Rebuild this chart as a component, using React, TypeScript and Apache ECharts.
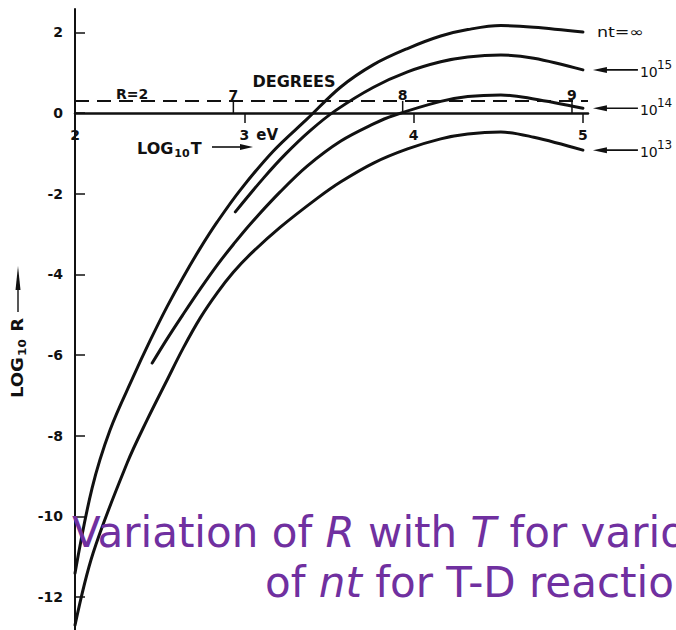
import { useEffect, useRef } from "react";
import * as echarts from "echarts";

// Axis ticks: log10 T in eV (x) and log10 R (y)
const xTicks = [2, 3, 4, 5];
const yTicks = [-12, -10, -8, -6, -4, -2, 0, 2];
// Temperature in degrees (log10 T, kelvin) marked along the R = 2 line
const degreeTicks = [7, 8, 9];
const LOG10_KELVIN_PER_EV = Math.log10(11604.5);
const rBreakEven = 2;

// log10 R against log10 T (eV) for each value of nt
const ntInfinity: number[][] = [
  [2.0, -11.41], [2.101, -9.3], [2.207, -7.86], [2.343, -6.55], [2.444, -5.64],
  [2.544, -4.8], [2.639, -4.07], [2.74, -3.35], [2.84, -2.7], [2.976, -1.91],
  [3.172, -0.94], [3.373, -0.14], [3.568, 0.64], [3.763, 1.2], [3.964, 1.6],
  [4.16, 1.91], [4.32, 2.07], [4.515, 2.17], [4.71, 2.13], [5.0, 2.01],
];
const nt1e15: number[][] = [
  [2.947, -2.45], [3.112, -1.62], [3.243, -1.02], [3.391, -0.43], [3.538, 0.06],
  [3.763, 0.64], [3.964, 1.02], [4.16, 1.27], [4.32, 1.39], [4.515, 1.44],
  [4.71, 1.36], [5.0, 1.07],
];
const nt1e14: number[][] = [
  [2.456, -6.2], [2.544, -5.6], [2.639, -4.99], [2.74, -4.36], [2.84, -3.77],
  [2.935, -3.26], [3.036, -2.75], [3.213, -1.95], [3.373, -1.31], [3.568, -0.7],
  [3.763, -0.27], [3.882, -0.06], [4.16, 0.29], [4.32, 0.41], [4.515, 0.45],
  [4.71, 0.35], [5.0, 0.12],
];
const nt1e13: number[][] = [
  [2.0, -12.7], [2.107, -10.91], [2.308, -8.68], [2.426, -7.61], [2.544, -6.62],
  [2.639, -5.83], [2.74, -5.08], [2.84, -4.46], [2.935, -3.95], [3.036, -3.5],
  [3.213, -2.83], [3.432, -2.11], [3.568, -1.71], [3.763, -1.24], [3.964, -0.89],
  [4.16, -0.64], [4.32, -0.52], [4.515, -0.47], [4.71, -0.6], [5.0, -0.92],
];

const curves = [ntInfinity, nt1e15, nt1e14, nt1e13];
const curveNames = ["nt=∞", "nt=10^15", "nt=10^14", "nt=10^13"];
const curveExponents = ["", "15", "14", "13"];

const INK = "#111";
const SCAN_FONT = "'DejaVu Sans', sans-serif";
const CAPTION_COLOR = "#7030a0";

export default function App() {
  const ref = useRef<HTMLDivElement>(null);

  useEffect(() => {
    document.body.style.margin = "0";
    const chart = echarts.init(ref.current!, null, { renderer: "svg" });
    const rLog = Math.log10(rBreakEven);

    const curveSeries = curves.map((data, i) => ({
      type: "line",
      name: curveNames[i],
      data,
      smooth: 0.35,
      symbol: "none",
      silent: true,
      lineStyle: { color: INK, width: 3, cap: "round" },
      z: 4,
    }));

    chart.setOption({
      animation: false,
      backgroundColor: "#ffffff",
      grid: { left: 75, right: 88, top: 9, bottom: 0, containLabel: false, outerBoundsMode: "none" },
      xAxis: {
        type: "value",
        min: 2,
        max: 5.03,
        interval: 1,
        axisLine: { onZero: true, lineStyle: { color: INK, width: 2.5 } },
        axisTick: {
          show: true,
          inside: false,
          length: 10,
          customValues: xTicks.slice(1),
          lineStyle: { color: INK, width: 1.5 },
        },
        axisLabel: { show: false },
        splitLine: { show: false },
      },
      yAxis: {
        type: "value",
        min: -12.82,
        max: 2.58,
        axisLine: { show: true, onZero: false, lineStyle: { color: INK, width: 2 } },
        axisTick: {
          show: true,
          inside: true,
          length: 10,
          customValues: yTicks,
          lineStyle: { color: INK, width: 1.5 },
        },
        axisLabel: {
          customValues: yTicks,
          margin: 12,
          color: INK,
          fontFamily: SCAN_FONT,
          fontWeight: "bold",
          fontSize: 14,
        },
        splitLine: { show: false },
      },
      series: [
        ...curveSeries,
        {
          type: "line",
          name: "R=2",
          data: [[2, rLog], [5.03, rLog]],
          symbol: "none",
          silent: true,
          lineStyle: { color: INK, width: 2, type: [14, 8] },
          z: 3,
        },
        {
          // log10 T (eV) tick labels, hung under the axis line at R = 1
          type: "custom",
          name: "log10T",
          silent: true,
          data: xTicks.map((v) => [v, 0]),
          renderItem: (_params: any, api: any) => {
            const c = api.coord([api.value(0), 0]);
            return {
              type: "text",
              x: c[0],
              y: c[1] + 15,
              style: {
                text: String(api.value(0)),
                align: "center",
                verticalAlign: "top",
                fill: INK,
                font: `bold 14px ${SCAN_FONT}`,
              },
            };
          },
          z: 5,
        },
        {
          type: "custom",
          name: "degrees",
          silent: true,
          data: degreeTicks.map((d) => [d - LOG10_KELVIN_PER_EV, d]),
          renderItem: (_params: any, api: any) => {
            const x = api.value(0);
            const p0 = api.coord([x, 0]);
            const p1 = api.coord([x, rLog]);
            return {
              type: "group",
              children: [
                {
                  type: "line",
                  shape: { x1: p0[0], y1: p0[1], x2: p1[0], y2: p1[1] },
                  style: { stroke: INK, lineWidth: 1.5 },
                },
                {
                  type: "text",
                  x: p1[0],
                  y: p1[1] + 1,
                  style: {
                    text: String(api.value(1)),
                    align: "center",
                    verticalAlign: "bottom",
                    fill: INK,
                    font: `bold 14px ${SCAN_FONT}`,
                  },
                },
              ],
            };
          },
          z: 5,
        },
      ],
    });

    const toPx = (p: number[]) => chart.convertToPixel({ gridIndex: 0 }, p) as number[];

    const graphics: any[] = [];

    // Curve labels at the right-hand ends
    curves.forEach((data, i) => {
      const [ex, ey] = toPx(data[data.length - 1]);
      if (i === 0) {
        graphics.push({
          type: "text",
          x: ex + 14,
          y: ey,
          scaleX: 1.25,
          style: { text: "nt=∞", fill: INK, font: `14px ${SCAN_FONT}`, align: "left", verticalAlign: "middle" },
        });
        return;
      }
      const tip = ex + 10;
      graphics.push(
        {
          type: "polygon",
          shape: { points: [[tip, ey], [tip + 14, ey - 3], [tip + 14, ey + 3]] },
          style: { fill: INK },
        },
        {
          type: "line",
          shape: { x1: tip + 10, y1: ey, x2: tip + 45, y2: ey },
          style: { stroke: INK, lineWidth: 1.6 },
        },
        {
          type: "text",
          x: ex + 57,
          y: ey + 2,
          style: { text: "10", fill: INK, font: `14px ${SCAN_FONT}`, align: "left", verticalAlign: "middle" },
        },
        {
          type: "text",
          x: ex + 74,
          y: ey - 5,
          style: { text: curveExponents[i], fill: INK, font: `12px ${SCAN_FONT}`, align: "left", verticalAlign: "middle" },
        }
      );
    });

    // R = 2 label above the dashed line
    const [, rY] = toPx([2, rLog]);
    graphics.push({
      type: "text",
      x: 132,
      y: rY - 7,
      style: { text: "R=2", fill: INK, font: `bold 14px ${SCAN_FONT}`, align: "center", verticalAlign: "middle" },
    });

    // Temperature scale title
    graphics.push({
      type: "text",
      x: 294,
      y: 81,
      style: { text: "DEGREES", fill: INK, font: `bold 16px ${SCAN_FONT}`, align: "center", verticalAlign: "middle" },
    });

    // Unit next to the tick at 3
    const [t3x, zeroY] = toPx([3, 0]);
    graphics.push({
      type: "text",
      x: t3x + 12,
      y: zeroY + 22,
      style: { text: "eV", fill: INK, font: `bold 15px ${SCAN_FONT}`, align: "left", verticalAlign: "middle" },
    });

    // x axis title with arrow
    graphics.push(
      {
        type: "text",
        x: 137,
        y: 148,
        style: {
          text: "{c|LOG}{s|10}{c|T}",
          align: "left",
          verticalAlign: "middle",
          rich: {
            c: { font: `bold 16px ${SCAN_FONT}`, fill: INK, lineHeight: 22, verticalAlign: "middle" },
            s: { font: `bold 11px ${SCAN_FONT}`, fill: INK, lineHeight: 12, verticalAlign: "bottom", padding: [0, 1, 0, 1] },
          },
        },
      },
      {
        type: "line",
        shape: { x1: 212, y1: 147, x2: 244, y2: 147 },
        style: { stroke: INK, lineWidth: 1.6 },
      },
      {
        type: "polygon",
        shape: { points: [[253, 147], [240, 144], [240, 150]] },
        style: { fill: INK },
      }
    );

    // y axis title, rotated, with arrow
    graphics.push({
      type: "group",
      x: 18,
      y: 398,
      rotation: Math.PI / 2,
      children: [
        {
          type: "text",
          x: 0,
          y: 0,
          scaleX: 1.2,
          style: {
            text: "{c|LOG}{s|10}{c| R}",
            align: "left",
            verticalAlign: "middle",
            rich: {
              c: { font: `bold 15px ${SCAN_FONT}`, fill: INK, lineHeight: 20, verticalAlign: "middle" },
              s: { font: `bold 10px ${SCAN_FONT}`, fill: INK, lineHeight: 11, verticalAlign: "bottom", padding: [0, 1, 0, 1] },
            },
          },
        },
        {
          type: "line",
          shape: { x1: 86, y1: 0, x2: 122, y2: 0 },
          style: { stroke: INK, lineWidth: 1.4 },
        },
        {
          type: "polygon",
          shape: { points: [[132, 0], [108, -2.5], [108, 2.5]] },
          style: { fill: INK },
        },
      ],
    });

    // Caption
    const captionRich = {
      n: { fontFamily: "'DejaVu Sans'", fontSize: 42, fill: CAPTION_COLOR, lineHeight: 50 },
      i: { fontFamily: "'DejaVu Sans'", fontSize: 42, fontStyle: "italic", fill: CAPTION_COLOR, lineHeight: 50 },
    };
    graphics.push(
      {
        type: "text",
        x: 72,
        y: 532,
        z: 10,
        style: {
          text: "{n|Variation of }{i|R}{n| with }{i|T}{n| for various values}",
          align: "left",
          verticalAlign: "middle",
          rich: captionRich,
        },
      },
      {
        type: "text",
        x: 265,
        y: 582,
        z: 10,
        style: {
          text: "{n|of }{i|nt}{n| for T-D reactions}",
          align: "left",
          verticalAlign: "middle",
          rich: captionRich,
        },
      }
    );

    chart.setOption({ graphic: { elements: graphics } });

    return () => {
      chart.dispose();
    };
  }, []);

  return <div ref={ref} style={{ width: 676, height: 630 }} />;
}
